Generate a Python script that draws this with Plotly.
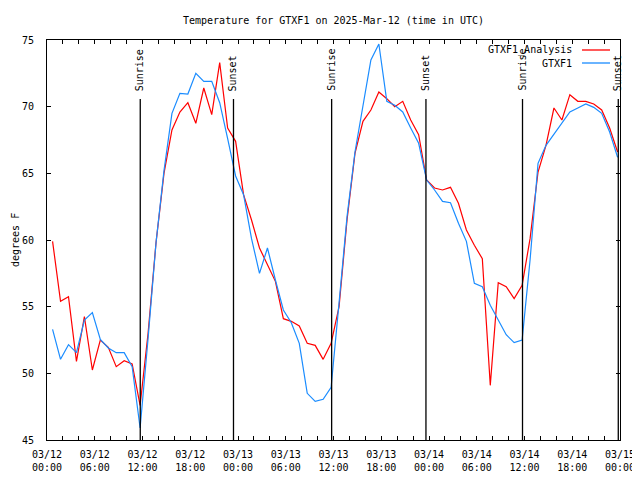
import pandas as pd
import plotly.graph_objects as go

# ---- data ----
times = pd.date_range("2025-03-12 00:42", periods=72, freq="h")

analysis_temp = [59.9, 55.4, 55.75, 50.9, 54.25, 50.25, 52.5, 51.95, 50.5, 50.95, 50.7, 47.6,
                 53.0, 59.8, 65.0, 68.25, 69.6, 70.3, 68.75, 71.4, 69.4, 73.3, 68.4, 67.4,
                 63.4, 61.5, 59.4, 58.1, 56.9, 54.1, 53.9, 53.55, 52.25, 52.1, 51.05, 52.25,
                 55.0, 61.5, 66.5, 68.9, 69.75, 71.1, 70.6, 70.0, 70.4, 69.0, 67.9, 64.5,
                 63.9, 63.75, 63.95, 62.75, 60.75, 59.6, 58.6, 49.1, 56.8, 56.5, 55.6, 56.6,
                 60.1, 65.1, 67.1, 69.9, 69.0, 70.9, 70.4, 70.4, 70.2, 69.75, 68.4, 66.6]

obs_temp = [53.3, 51.05, 52.15, 51.55, 54.0, 54.55, 52.55, 51.9, 51.55, 51.55, 50.5, 45.9,
            52.6, 59.8, 65.2, 69.5, 71.0, 70.95, 72.5, 71.9, 71.9, 70.3, 67.6, 64.8,
            63.4, 60.1, 57.5, 59.4, 57.0, 54.75, 53.8, 52.25, 48.5, 47.9, 48.05, 48.95,
            55.3, 61.75, 66.6, 69.9, 73.5, 74.7, 70.4, 70.1, 69.6, 68.4, 67.25, 64.5,
            63.75, 62.9, 62.8, 61.25, 59.9, 56.75, 56.5, 55.1, 54.0, 52.9, 52.3, 52.5,
            58.5, 65.75, 67.1, 67.95, 68.75, 69.6, 69.9, 70.2, 69.95, 69.5, 68.1, 66.2]

sun_events = ["2025-03-12 11:43", "2025-03-12 23:26", "2025-03-13 11:46",
              "2025-03-13 23:37", "2025-03-14 11:45", "2025-03-14 23:47"]
sun_labels = ["Sunrise", "Sunset", "Sunrise", "Sunset", "Sunrise", "Sunset"]

tick_vals = ["2025-03-12 00:00", "2025-03-12 06:00", "2025-03-12 12:00", "2025-03-12 18:00",
             "2025-03-13 00:00", "2025-03-13 06:00", "2025-03-13 12:00", "2025-03-13 18:00",
             "2025-03-14 00:00", "2025-03-14 06:00", "2025-03-14 12:00", "2025-03-14 18:00",
             "2025-03-15 00:00"]
tick_text = ["03/12<br>00:00", "03/12<br>06:00", "03/12<br>12:00", "03/12<br>18:00",
             "03/13<br>00:00", "03/13<br>06:00", "03/13<br>12:00", "03/13<br>18:00",
             "03/14<br>00:00", "03/14<br>06:00", "03/14<br>12:00", "03/14<br>18:00",
             "03/15<br>00:00"]

series_names = ["GTXF1_Analysis", "GTXF1"]
series_colors = ["#ff0000", "#1a8cff"]

FONT = "DejaVu Sans Mono"

# page has an 8px body margin; figure is sized so the plot lands at x 47..620, y 40..440
OFF = 8
FW, FH = 640 - OFF, 480 - 2 * OFF
ML, MT = 47 - OFF, 40 - OFF
PW, PH = 573.0, 400.0
MR = FW - ML - PW
MB = FH - MT - PH

fig = go.Figure()
fig.add_trace(go.Scatter(x=times, y=analysis_temp, mode="lines", name=series_names[0],
                         line=dict(color=series_colors[0], width=1.2), showlegend=False))
fig.add_trace(go.Scatter(x=times, y=obs_temp, mode="lines", name=series_names[1],
                         line=dict(color=series_colors[1], width=1.2), showlegend=False))

# sunrise / sunset markers
for t, lab in zip(sun_events, sun_labels):
    fig.add_shape(type="line", xref="x", yref="paper", x0=t, x1=t, y0=0, y1=0.8525,
                  line=dict(color="black", width=1.3))
    fig.add_annotation(x=t, xref="x", y=0.8675, yref="paper", text=lab, textangle=-90,
                       showarrow=False, xanchor="center", yanchor="bottom",
                       font=dict(family=FONT, size=10, color="black"))

# gnuplot-style legend (text then sample line)
for i, (nm, col) in enumerate(zip(series_names, series_colors)):
    ypix = 50 + 13 * i
    yp = (440 - ypix) / PH
    fig.add_annotation(x=(574 - 47) / PW, xref="paper", y=yp, yref="paper", text=nm,
                       showarrow=False, xanchor="right", yanchor="middle",
                       font=dict(family=FONT, size=10, color="black"))
    fig.add_shape(type="line", xref="paper", yref="paper",
                  x0=(582 - 47) / PW, x1=(610 - 47) / PW, y0=yp, y1=yp,
                  line=dict(color=col, width=1.3))

# y label
fig.add_annotation(x=(15 - 47) / PW, xref="paper", y=0.5, yref="paper", text="degrees F",
                   textangle=-90, showarrow=False, xanchor="center", yanchor="middle",
                   font=dict(family=FONT, size=10, color="black"))

fig.update_layout(
    width=FW, height=FH,
    margin=dict(l=ML, r=MR, t=MT, b=MB, pad=0),
    paper_bgcolor="white", plot_bgcolor="white",
    font=dict(family=FONT, size=10, color="black"),
    title=dict(text="Temperature for GTXF1 on 2025-Mar-12 (time in UTC)",
               x=(333.5 - OFF) / FW, xanchor="center", y=1 - (20 - OFF) / FH, yanchor="middle",
               font=dict(family=FONT, size=10, color="black")),
    showlegend=False,
)
fig.update_xaxes(
    type="date", range=["2025-03-12 00:00", "2025-03-15 00:00"],
    tickvals=tick_vals, ticktext=tick_text,
    ticks="inside", ticklen=4, tickcolor="black", tickwidth=1,
    minor=dict(dtick=2 * 3600 * 1000, ticks="inside", ticklen=4, tickcolor="black",
               tick0="2025-03-12 00:00", showgrid=False),
    showline=True, linecolor="black", linewidth=1, mirror="allticks",
    showgrid=False, zeroline=False, tickfont=dict(family=FONT, size=10),
    ticklabelstandoff=5, automargin=False,
)
fig.update_yaxes(
    range=[45, 75], tickvals=[45, 50, 55, 60, 65, 70, 75],
    ticks="inside", ticklen=4, tickcolor="black", tickwidth=1,
    showline=True, linecolor="black", linewidth=1, mirror="allticks",
    showgrid=False, zeroline=False, tickfont=dict(family=FONT, size=10),
    ticklabelstandoff=10, automargin=False,
)

fig.write_html("out.html")
